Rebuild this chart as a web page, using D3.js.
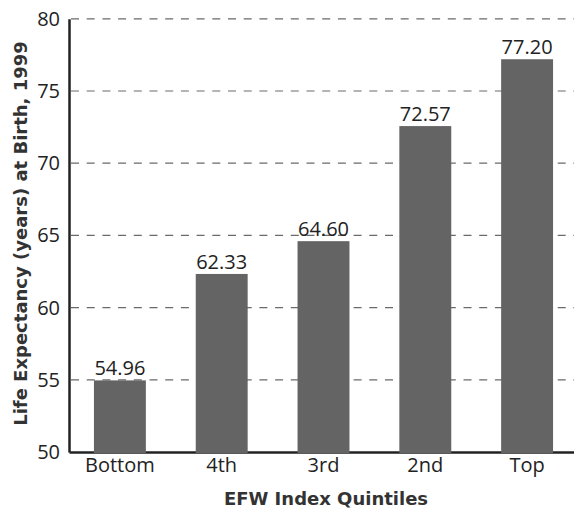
<!DOCTYPE html>
<html><head><meta charset="utf-8">
<script src="https://cdn.jsdelivr.net/npm/d3@7"></script>
<style>body{margin:0;background:#fff}svg{display:block}</style>
</head><body>
<script>
const categories = ["Bottom","4th","3rd","2nd","Top"];
const values = [54.96, 62.33, 64.60, 72.57, 77.20];
const valueLabels = ["54.96","62.33","64.60","72.57","77.20"];
const yTicks = [50,55,60,65,70,75,80];
const xTitle = "EFW Index Quintiles";
const yTitle = "Life Expectancy (years) at Birth, 1999";

(function(){
const W=574,H=512;
const mL=69,mR=578,mT=18.8,mB=452;
const font="'Open Sans', sans-serif";
const bfont="'DejaVu Sans', sans-serif";
const svg=d3.select("body").append("svg").attr("width",W).attr("height",H);
const x=d3.scaleBand().domain(categories).range([mL,mR]).paddingInner(0.49).paddingOuter(0.245);
const y=d3.scaleLinear().domain([50,80]).range([mB,mT]);

// gridlines
svg.append("g").selectAll("line").data(yTicks.filter(d=>d>50)).join("line")
  .attr("x1",mL).attr("x2",W).attr("y1",d=>y(d)).attr("y2",d=>y(d))
  .attr("stroke","#6a6a6a").attr("stroke-width",1.2).attr("stroke-dasharray","8,7.7")
  .attr("stroke-dashoffset",-2);

// y axis
const ya=svg.append("g").attr("transform",`translate(${mL},0)`)
  .call(d3.axisLeft(y).tickValues(yTicks).tickSize(0).tickPadding(9));
ya.select(".domain").attr("stroke","#222").attr("stroke-width",2.5);
ya.selectAll("text").attr("font-family",font).attr("font-size",20).attr("fill","#222");

// x axis
const xa=svg.append("g").attr("transform",`translate(0,${mB})`)
  .call(d3.axisBottom(x).tickSize(0).tickPadding(6));
xa.select(".domain").attr("stroke","#222").attr("stroke-width",2.5);
xa.selectAll("text").attr("font-family",font).attr("font-size",20).attr("fill","#222");

// bars
svg.append("g").selectAll("rect").data(values).join("rect")
  .attr("x",(d,i)=>x(categories[i])).attr("width",x.bandwidth())
  .attr("y",d=>y(d)).attr("height",d=>y(50)-y(d)+1).attr("fill","#646464");

// value labels
svg.append("g").selectAll("text").data(values).join("text")
  .attr("x",(d,i)=>x(categories[i])+x.bandwidth()/2).attr("y",d=>y(d)-5)
  .attr("text-anchor","middle").attr("font-family",font).attr("font-size",20).attr("fill","#222")
  .text((d,i)=>valueLabels[i]);

// titles
svg.append("text").attr("x",326).attr("y",505).attr("text-anchor","middle")
  .attr("font-family",bfont).attr("font-weight","bold").attr("font-size",18).attr("fill","#333").text(xTitle);
svg.append("text").attr("transform",`translate(27,233.5) rotate(-90)`).attr("text-anchor","middle")
  .attr("font-family",bfont).attr("font-weight","bold").attr("font-size",18).attr("fill","#333").text(yTitle);
})();
</script>
</body></html>
